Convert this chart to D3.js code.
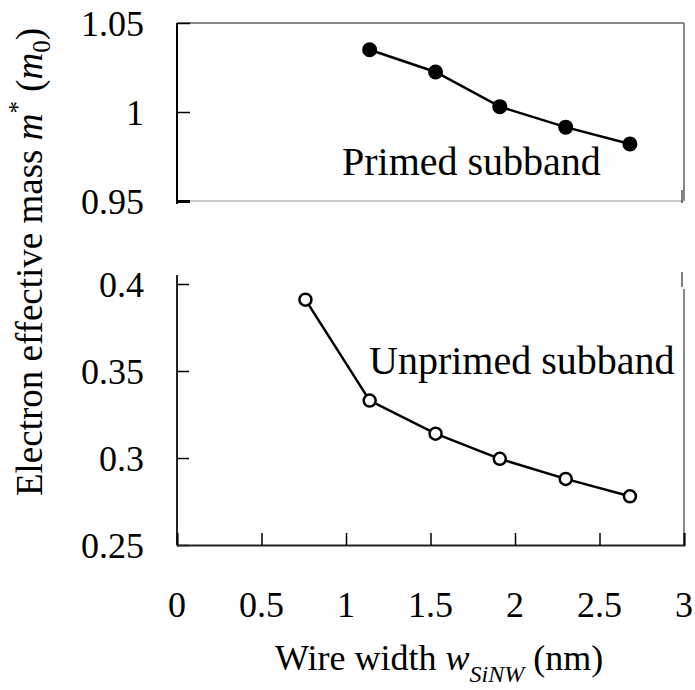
<!DOCTYPE html>
<html>
<head>
<meta charset="utf-8">
<style>
  body { margin: 0; background: #fff; }
  svg { font-family: 'Liberation Serif', 'Times New Roman', serif; }
</style>
</head>
<body>
<svg width="695" height="690"></svg>
<script src="https://d3js.org/d3.v7.min.js"></script>
<script>
// wire widths (nm)
const primedX = [1.14, 1.53, 1.91, 2.30, 2.68];
const primedMass = [1.035, 1.0225, 1.003, 0.9915, 0.982];
const unprimedX = [0.76, 1.14, 1.53, 1.91, 2.30, 2.68];
const unprimedMass = [0.391, 0.333, 0.314, 0.2995, 0.288, 0.278];

const xTicks = [0, 0.5, 1, 1.5, 2, 2.5, 3];
const topTicks = [1.05, 1, 0.95];
const bottomTicks = [0.4, 0.35, 0.3, 0.25];

const svg = d3.select("svg");

const x = d3.scaleLinear().domain([0, 3]).range([177, 684]);
const yTop = d3.scaleLinear().domain([0.95, 1.05]).range([201, 23]);
const yBot = d3.scaleLinear().domain([0.25, 0.4]).range([545, 284]);

// top panel frame
svg.append("line").attr("x1", x(0)).attr("x2", x(3)).attr("y1", yTop(1.05)).attr("y2", yTop(1.05))
  .attr("stroke", "#888").attr("stroke-width", 2);
svg.append("line").attr("x1", x(3)).attr("x2", x(3)).attr("y1", yTop(1.05)).attr("y2", yTop(0.95))
  .attr("stroke", "#888").attr("stroke-width", 2);
svg.append("line").attr("x1", x(0)).attr("x2", x(3)).attr("y1", yTop(0.95)).attr("y2", yTop(0.95))
  .attr("stroke", "#ccc").attr("stroke-width", 2);

// bottom panel right border
svg.append("line").attr("x1", x(3)).attr("x2", x(3)).attr("y1", 289).attr("y2", yBot(0.25))
  .attr("stroke", "#888").attr("stroke-width", 2);

// stray tick marks near the right edge
svg.append("line").attr("x1", x(3) - 2).attr("x2", x(3) - 2).attr("y1", 190).attr("y2", 203)
  .attr("stroke", "#000").attr("stroke-width", 1);
svg.append("line").attr("x1", x(3) - 2).attr("x2", x(3) - 2).attr("y1", 272).attr("y2", 287)
  .attr("stroke", "#000").attr("stroke-width", 1);

// left axes (ticks inward)
const topAxis = svg.append("g").attr("transform", `translate(${x(0)},0)`)
  .call(d3.axisRight(yTop).tickValues(topTicks).tickSize(13).tickFormat(""));
const botAxis = svg.append("g").attr("transform", `translate(${x(0)},0)`)
  .call(d3.axisRight(yBot).tickValues(bottomTicks).tickSize(12).tickFormat(""));
[topAxis, botAxis].forEach(g => {
  g.select(".domain").remove();
  g.selectAll(".tick line").attr("stroke", "#000").attr("stroke-width", 1.5);
});
topAxis.select(".tick:last-of-type line").attr("stroke-width", 3);
svg.append("line").attr("x1", x(0)).attr("x2", x(0)).attr("y1", yTop(1.05)).attr("y2", 204)
  .attr("stroke", "#000").attr("stroke-width", 2);
svg.append("line").attr("x1", x(0)).attr("x2", x(0)).attr("y1", 275).attr("y2", yBot(0.25))
  .attr("stroke", "#222").attr("stroke-width", 2);

// tick labels
svg.append("g").selectAll("text").data(topTicks).join("text")
  .attr("x", 144).attr("y", d => yTop(d)).attr("dy", "0.35em")
  .attr("text-anchor", "end").attr("font-size", 36).text(d => d);
svg.append("g").selectAll("text").data(bottomTicks).join("text")
  .attr("x", 144).attr("y", d => yBot(d)).attr("dy", "0.35em")
  .attr("text-anchor", "end").attr("font-size", 36).text(d => d);

// bottom x axis
const xAxis = svg.append("g").attr("transform", `translate(0,${yBot(0.25)})`)
  .call(d3.axisTop(x).tickValues(xTicks).tickSize(12).tickFormat(""));
xAxis.select(".domain").attr("stroke", "#222").attr("stroke-width", 2);
xAxis.selectAll(".tick line").attr("stroke", "#000").attr("stroke-width", 1.5);
svg.append("g").selectAll("text").data(xTicks).join("text")
  .attr("x", d => x(d)).attr("y", 617)
  .attr("text-anchor", "middle").attr("font-size", 36).text(d => d);

// series
const line = (ys) => d3.line().x(d => x(d[0])).y(d => ys(d[1]));
const primed = d3.zip(primedX, primedMass);
const unprimed = d3.zip(unprimedX, unprimedMass);

svg.append("path").datum(primed).attr("d", line(yTop))
  .attr("fill", "none").attr("stroke", "#000").attr("stroke-width", 2.5);
svg.append("g").selectAll("circle").data(primed).join("circle")
  .attr("cx", d => x(d[0])).attr("cy", d => yTop(d[1])).attr("r", 7.5).attr("fill", "#000");

svg.append("path").datum(unprimed).attr("d", line(yBot))
  .attr("fill", "none").attr("stroke", "#000").attr("stroke-width", 2.5);
svg.append("g").selectAll("circle").data(unprimed).join("circle")
  .attr("cx", d => x(d[0])).attr("cy", d => yBot(d[1])).attr("r", 6)
  .attr("fill", "#fff").attr("stroke", "#000").attr("stroke-width", 2.5);

// annotations
svg.append("text").attr("x", 342).attr("y", 175).attr("font-size", 40).text("Primed subband");
svg.append("text").attr("x", 369).attr("y", 374).attr("font-size", 40).text("Unprimed subband");

// axis titles
const xt = svg.append("text").attr("x", 275).attr("y", 670).attr("font-size", 36);
xt.append("tspan").text("Wire width ");
xt.append("tspan").attr("font-style", "italic").text("w");
xt.append("tspan").attr("font-style", "italic").attr("font-size", 24).attr("dy", 12).text("SiNW");
xt.append("tspan").attr("dy", -12).text(" (nm)");

const yt = svg.append("text").attr("transform", "translate(42,262) rotate(-90)")
  .attr("text-anchor", "middle").attr("font-size", 37);
yt.append("tspan").text("Electron effective mass ");
yt.append("tspan").attr("font-style", "italic").text("m");
yt.append("tspan").attr("font-size", 25).attr("dy", -16).text("*");
yt.append("tspan").attr("dy", 16).text(" (");
yt.append("tspan").attr("font-style", "italic").text("m");
yt.append("tspan").attr("font-size", 25).attr("dy", 8).text("0");
yt.append("tspan").attr("dy", -8).text(")");
</script>
</body>
</html>
